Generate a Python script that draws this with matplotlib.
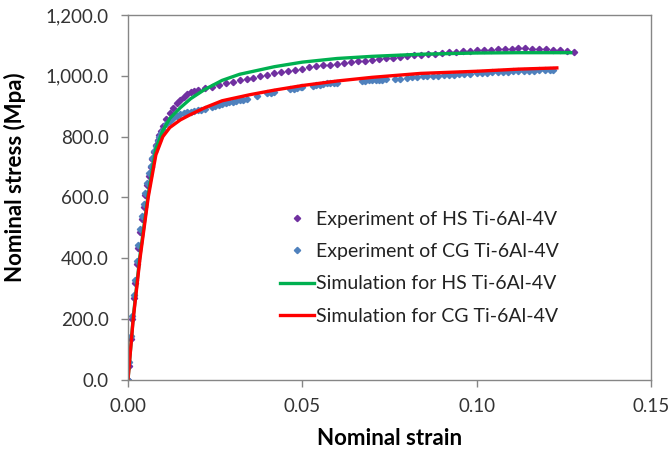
import numpy as np
import matplotlib
matplotlib.use("Agg")
import matplotlib.pyplot as plt
from matplotlib.ticker import FuncFormatter

plt.rcParams['font.family'] = ['Lato', 'DejaVu Sans']

# experiment HS (purple points)
hsStrain = [0, 0.0004, 0.0008, 0.0012, 0.0016, 0.002, 0.0025, 0.003, 0.0035, 0.004,
            0.0045, 0.005, 0.0055, 0.006, 0.0065, 0.007, 0.0075, 0.008, 0.0085, 0.009,
            0.0095, 0.010, 0.011, 0.012, 0.013, 0.014, 0.015, 0.016, 0.017, 0.018, 0.019,
            0.020, 0.022, 0.024, 0.026, 0.028, 0.030, 0.032, 0.034, 0.036, 0.038,
            0.040, 0.042, 0.044, 0.046, 0.048, 0.050, 0.052, 0.054, 0.056, 0.058,
            0.060, 0.062, 0.064, 0.066, 0.068, 0.070, 0.072, 0.074, 0.076, 0.078,
            0.080, 0.082, 0.084, 0.086, 0.088, 0.090, 0.092, 0.094, 0.096, 0.098,
            0.100, 0.102, 0.104, 0.106, 0.108, 0.110, 0.112, 0.114, 0.116, 0.118,
            0.120, 0.122, 0.124, 0.126, 0.128]
hsStress = [0, 45, 135, 200, 270, 320, 380, 435, 485, 530,
            570, 608, 640, 672, 700, 725, 750, 772, 790, 806,
            820, 835, 858, 878, 895, 910, 922, 932, 940, 946, 950,
            955, 960, 964, 970, 975, 981, 985, 990, 994, 1000,
            1004, 1008, 1012, 1016, 1020, 1024, 1028, 1031, 1034, 1037,
            1040, 1043, 1046, 1048, 1050, 1053, 1055, 1058, 1060, 1063,
            1065, 1067, 1069, 1071, 1073, 1075, 1077, 1079, 1081, 1083,
            1084, 1085, 1086, 1087, 1088, 1089, 1090, 1090, 1089, 1089,
            1088, 1086, 1084, 1082, 1079]

# experiment CG (blue points)
cgStrain = [0, 0.0004, 0.0008, 0.0012, 0.0016, 0.002, 0.0025, 0.003, 0.0035, 0.004,
            0.0045, 0.005, 0.0055, 0.006, 0.0065, 0.007, 0.0075, 0.008, 0.0085, 0.009,
            0.0095, 0.010, 0.011, 0.012, 0.013, 0.014, 0.015, 0.016,
            0.017, 0.018, 0.019, 0.020, 0.021, 0.022,
            0.024, 0.025, 0.026, 0.027, 0.028, 0.029, 0.030, 0.031, 0.032, 0.033, 0.034,
            0.037, 0.040, 0.041, 0.042,
            0.0465, 0.0475, 0.0485, 0.0495, 0.050,
            0.053, 0.054, 0.055, 0.056, 0.057, 0.058, 0.059, 0.060,
            0.067, 0.068, 0.069, 0.070, 0.071, 0.072, 0.073, 0.074,
            0.0766, 0.078,
            0.080, 0.0815, 0.083, 0.0845, 0.0857,
            0.0875, 0.089, 0.0905, 0.092, 0.0935, 0.095, 0.0965, 0.098,
            0.100, 0.1015, 0.103, 0.1045, 0.106, 0.1075, 0.109, 0.1105, 0.112,
            0.1135, 0.115, 0.1165, 0.118, 0.1195, 0.121, 0.122]
cgStress = [0, 60, 145, 210, 280, 330, 390, 445, 495, 540,
            580, 615, 648, 680, 705, 730, 752, 770, 787, 800,
            812, 823, 840, 852, 862, 868, 873, 877,
            880, 882, 885, 887, 889, 891,
            897, 900, 904, 907, 910, 913, 915, 918, 920, 922, 924,
            935, 942, 944, 947,
            956, 958, 960, 962, 963,
            968, 970, 971, 973, 975, 976, 977, 978,
            983, 984, 985, 986, 986, 987, 987, 988,
            988, 989,
            993, 995, 997, 998, 999,
            1000, 1001, 1002, 1003, 1004, 1005, 1006, 1007,
            1008, 1009, 1010, 1011, 1012, 1013, 1014, 1015, 1016,
            1016, 1017, 1017, 1018, 1018, 1019, 1019]

# simulation curves
simHsStrain = [0, 0.0015, 0.0034, 0.0058, 0.008, 0.010, 0.012, 0.015, 0.018, 0.022,
               0.027, 0.032, 0.042, 0.050, 0.060, 0.070, 0.084, 0.100, 0.112, 0.127]
simHsStress = [0, 205, 405, 610, 760, 820, 860, 895, 925, 955,
               985, 1005, 1030, 1045, 1057, 1064, 1071, 1075, 1076, 1076]
simCgStrain = [0, 0.0015, 0.0034, 0.0058, 0.008, 0.010, 0.012, 0.015, 0.018, 0.022,
               0.027, 0.035, 0.042, 0.050, 0.060, 0.070, 0.084, 0.100, 0.112, 0.123]
simCgStress = [0, 200, 395, 600, 740, 800, 830, 855, 873, 895,
               918, 938, 953, 968, 983, 995, 1008, 1015, 1022, 1026]

fig = plt.figure(figsize=(6.70, 4.54), dpi=100)
ax = fig.add_axes([0.191, 0.163, 0.7806, 0.804])

ax.plot(hsStrain, hsStress, linestyle='none', marker='D', markersize=3.2,
        color='#7030A0', label='Experiment of HS Ti-6Al-4V')
ax.plot(cgStrain, cgStress, linestyle='none', marker='D', markersize=3.2,
        color='#4F81BD', label='Experiment of CG Ti-6Al-4V')
ax.plot(simHsStrain, simHsStress, color='#00B050', linewidth=2.4,
        label='Simulation for HS Ti-6Al-4V')
ax.plot(simCgStrain, simCgStress, color='#FF0000', linewidth=2.4,
        label='Simulation for CG Ti-6Al-4V')

ax.set_xlim(0, 0.15)
ax.set_ylim(0, 1200)
ax.set_xticks([0, 0.05, 0.10, 0.15])
ax.set_yticks(np.arange(0, 1201, 200))
ax.xaxis.set_major_formatter(FuncFormatter(lambda v, p: f"{v:.2f}"))
ax.yaxis.set_major_formatter(FuncFormatter(lambda v, p: f"{v:,.1f}"))
ax.tick_params(colors='#868686', labelcolor='#333333', labelsize=13.5, length=5, width=1)
ax.tick_params(axis='y', pad=9)
ax.tick_params(axis='x', pad=8)
for s in ax.spines.values():
    s.set_color('#868686')
    s.set_linewidth(1)

ax.set_xlabel('Nominal strain', fontsize=16, fontweight='bold', labelpad=9)
ax.set_ylabel('Nominal stress (Mpa)', fontsize=16, fontweight='bold', labelpad=6)
ax.yaxis.set_label_coords(-0.195, 0.556)

leg = ax.legend(loc='upper left', bbox_to_anchor=(0.275, 0.484), frameon=False,
                fontsize=14, handlelength=1.75, handletextpad=0.1, labelspacing=0.78,
                markerscale=1.0, borderaxespad=0)
for t in leg.get_texts():
    t.set_color('#222222')

fig.savefig('out.png', dpi=100)
